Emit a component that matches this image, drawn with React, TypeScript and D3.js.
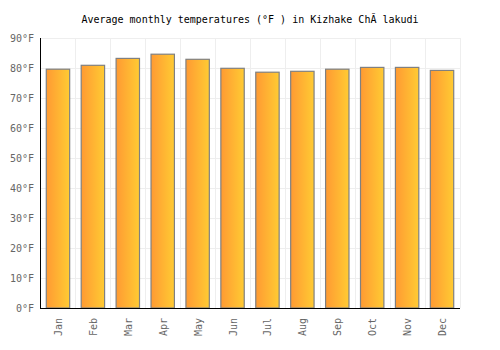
import React, { useEffect, useRef } from 'react';
import * as d3 from 'd3';

const months = ['Jan', 'Feb', 'Mar', 'Apr', 'May', 'Jun', 'Jul', 'Aug', 'Sep', 'Oct', 'Nov', 'Dec'];
const temps = [79.6, 80.9, 83.2, 84.6, 82.9, 79.9, 78.6, 78.9, 79.6, 80.2, 80.2, 79.2];
const yTicks = [0, 10, 20, 30, 40, 50, 60, 70, 80, 90];

const App = () => {
    const svgRef = useRef<SVGSVGElement>(null);

    useEffect(() => {
        const margin = { top: 38, right: 40, bottom: 42, left: 40 };
        const width = 500 - margin.left - margin.right;
        const height = 350 - margin.top - margin.bottom;
        const font = '"DejaVu Sans Mono", monospace';

        const root = d3.select(svgRef.current);
        root.selectAll('*').remove();

        const defs = root.append('defs');
        const grad = defs.append('linearGradient').attr('id', 'barGrad')
            .attr('x1', '0%').attr('x2', '100%').attr('y1', '0%').attr('y2', '0%');
        grad.append('stop').attr('offset', '0%').attr('stop-color', '#ff9a33');
        grad.append('stop').attr('offset', '100%').attr('stop-color', '#ffcb33');

        root.append('text')
            .attr('x', 250).attr('y', 23)
            .attr('text-anchor', 'middle')
            .style('font-family', font).style('font-size', '10px')
            .text('Average monthly temperatures (°F ) in Kizhake ChĂ lakudi');

        const svg = root.append('g').attr('transform', `translate(${margin.left},${margin.top})`);

        const x = d3.scaleBand().domain(months).range([0, width]).paddingInner(0.33).paddingOuter(0.18);
        const y = d3.scaleLinear().domain([0, 90]).range([height, 0]);

        // grid
        svg.append('g').selectAll('line.h').data(yTicks).join('line')
            .attr('x1', 0).attr('x2', width)
            .attr('y1', (d) => Math.round(y(d)) + 0.5).attr('y2', (d) => Math.round(y(d)) + 0.5)
            .attr('stroke', '#eeeeee');
        const bounds = d3.range(months.length + 1).map((i) => i * width / months.length);
        svg.append('g').selectAll('line.v').data(bounds).join('line')
            .attr('x1', (d) => Math.round(d) + 0.5).attr('x2', (d) => Math.round(d) + 0.5)
            .attr('y1', 0).attr('y2', height)
            .attr('stroke', '#eeeeee');

        svg.append('g').selectAll('rect').data(temps).join('rect')
            .attr('x', (d, i) => x(months[i]))
            .attr('y', (d) => y(d))
            .attr('width', x.bandwidth())
            .attr('height', (d) => height - y(d))
            .attr('fill', 'url(#barGrad)')
            .attr('stroke', '#808080')
            .attr('stroke-width', 1.2);

        // axes lines
        svg.append('line').attr('x1', 0.5).attr('x2', 0.5).attr('y1', 0).attr('y2', height + 0.5)
            .attr('stroke', '#000').attr('stroke-width', 1);
        svg.append('line').attr('x1', 0).attr('x2', width).attr('y1', height + 0.5).attr('y2', height + 0.5)
            .attr('stroke', '#000').attr('stroke-width', 1);

        svg.append('g').selectAll('text').data(yTicks).join('text')
            .attr('x', -6).attr('y', (d) => y(d) + 4)
            .attr('text-anchor', 'end')
            .attr('fill', '#666')
            .style('font-family', font).style('font-size', '10px')
            .text((d) => `${d}°F`);

        svg.append('g').selectAll('text').data(months).join('text')
            .attr('transform', (d) => `translate(${x(d)! + x.bandwidth() / 2 + 4},${height + 10}) rotate(-90)`)
            .attr('text-anchor', 'end')
            .attr('fill', '#666')
            .style('font-family', font).style('font-size', '10px')
            .text((d) => d);
    }, []);

    return (
        <div>
            <svg ref={svgRef} width={500} height={350} style={{ display: 'block', position: 'absolute', left: 0, top: 0 }}></svg>
        </div>
    );
};

export default App;
